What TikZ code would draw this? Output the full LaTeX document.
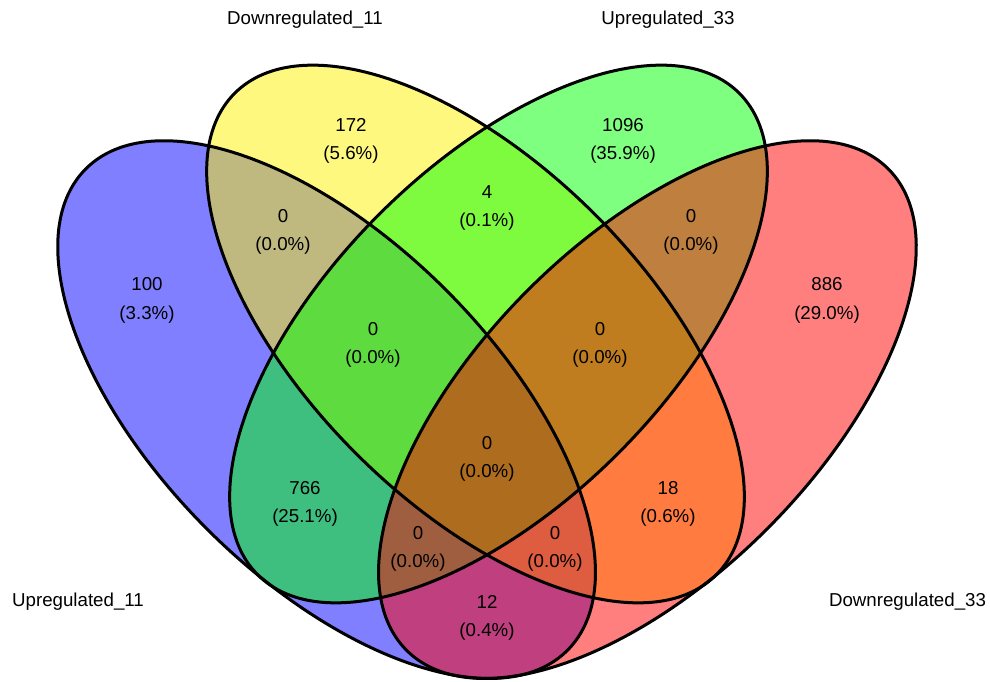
\documentclass[tikz,border=0pt]{standalone}
\usepackage{fontspec}
\setmainfont{Liberation Sans}
\begin{document}
\begin{tikzpicture}[x=1pt,y=1pt,
  txt/.style={font=\fontsize{18.7}{22}\selectfont, inner sep=0pt, anchor=base},
  setfill/.style={fill=#1, fill opacity=0.5},
  outline/.style={line width=3pt, draw=black}]
\useasboundingbox (0,0) rectangle (990,681);
% ellipse centres
\coordinate (cA) at (326.6,271.4);
\coordinate (cB) at (475.5,347);
\coordinate (cC) at (498.5,347);
\coordinate (cD) at (647.4,271.4);
% fills
\fill[setfill=blue, rotate around={-45:(cA)}] (cA) ellipse [x radius=340.5, y radius=169];
\fill[setfill=yellow, rotate around={-45:(cB)}] (cB) ellipse [x radius=340.5, y radius=169];
\fill[setfill=green, rotate around={45:(cC)}] (cC) ellipse [x radius=340.5, y radius=169];
\fill[setfill=red, rotate around={45:(cD)}] (cD) ellipse [x radius=340.5, y radius=169];
% outlines
\draw[outline, rotate around={-45:(cA)}] (cA) ellipse [x radius=340.5, y radius=169];
\draw[outline, rotate around={-45:(cB)}] (cB) ellipse [x radius=340.5, y radius=169];
\draw[outline, rotate around={45:(cC)}] (cC) ellipse [x radius=340.5, y radius=169];
\draw[outline, rotate around={45:(cD)}] (cD) ellipse [x radius=340.5, y radius=169];
% category labels
\node[txt] (labB) at (305,656) {Downregulated\_11};
\node[txt] (labC) at (668,656) {Upregulated\_33};
\node[txt] (labA) at (78,75) {Upregulated\_11};
\node[txt] (labD) at (907.5,75) {Downregulated\_33};
% region counts
\node[txt] (nB) at (351,549) {172};   \node[txt] (pB) at (351,521) {(5.6\%)};
\node[txt] (nA) at (147,390) {100};   \node[txt] (pA) at (147,362) {(3.3\%)};
\node[txt] (nAB) at (283,458) {0};    \node[txt] (pAB) at (283,430) {(0.0\%)};
\node[txt] (nBC) at (487,482) {4};    \node[txt] (pBC) at (487,454) {(0.1\%)};
\node[txt] (nC) at (623,549) {1096};  \node[txt] (pC) at (623,521) {(35.9\%)};
\node[txt] (nCD) at (691,458) {0};    \node[txt] (pCD) at (691,430) {(0.0\%)};
\node[txt] (nD) at (827,390) {886};   \node[txt] (pD) at (827,362) {(29.0\%)};
\node[txt] (nABC) at (373,346) {0};   \node[txt] (pABC) at (373,318) {(0.0\%)};
\node[txt] (nBCD) at (600,346) {0};   \node[txt] (pBCD) at (600,318) {(0.0\%)};
\node[txt] (nABCD) at (487,232) {0};  \node[txt] (pABCD) at (487,204) {(0.0\%)};
\node[txt] (nAC) at (305,187) {766};  \node[txt] (pAC) at (305,159) {(25.1\%)};
\node[txt] (nBD) at (668,187) {18};   \node[txt] (pBD) at (668,159) {(0.6\%)};
\node[txt] (nACD) at (418,142) {0};   \node[txt] (pACD) at (418,114) {(0.0\%)};
\node[txt] (nABD) at (555,142) {0};   \node[txt] (pABD) at (555,114) {(0.0\%)};
\node[txt] (nAD) at (487,73) {12};    \node[txt] (pAD) at (487,45) {(0.4\%)};
\end{tikzpicture}
\end{document}
